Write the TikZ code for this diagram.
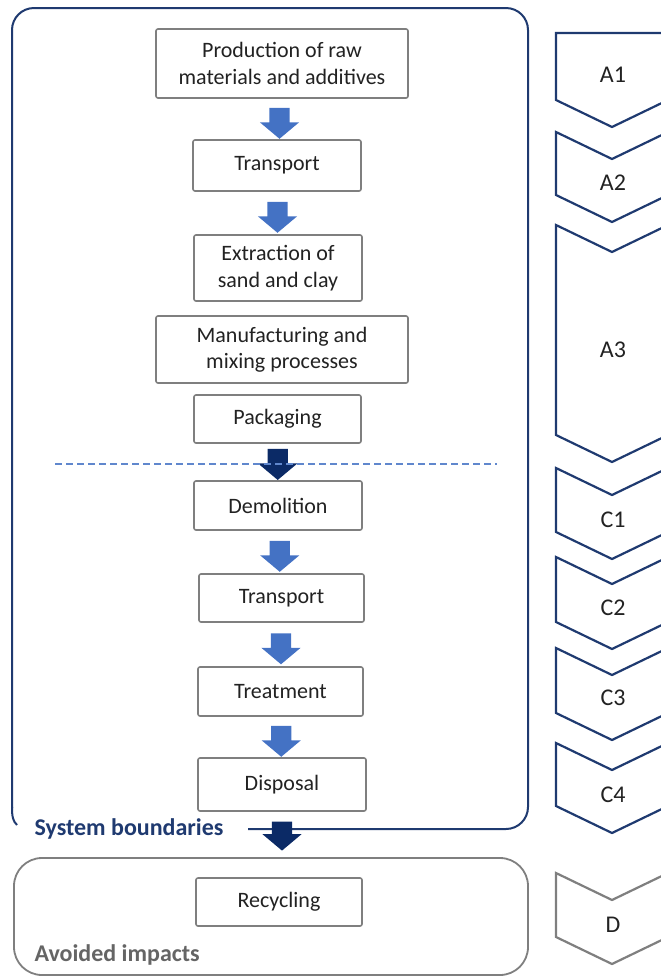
\documentclass[tikz,border=0pt]{standalone}
\usepackage{fontspec}
\setmainfont{Carlito}
\usepackage{tikz}
\usetikzlibrary{
	calc,
	positioning,
	shapes,
	shapes.arrows
	}
\definecolor{navy}{HTML}{1F3A70}
\definecolor{navyfleche}{HTML}{0B2A66}
\definecolor{bleu}{HTML}{4472C4}
\definecolor{gris}{HTML}{7F7F7F}
\definecolor{texte}{HTML}{222222}
\tikzstyle{etape}=[draw=gris,line width=1.6pt,rounded corners=2pt,fill=white,align=center,text=texte,font=\fontsize{22}{26.5}\selectfont,inner sep=2pt]
\tikzstyle{fleche}=[single arrow,draw=none,fill=bleu,minimum height=31pt,single arrow head extend=9.5pt,single arrow head indent=0pt,single arrow tip angle=100,inner xsep=0pt,inner ysep=10pt,rotate=-90]
\tikzstyle{chev}=[draw=navy,line width=2.2pt,line join=miter]
\tikzstyle{chev-lbl}=[text=texte,font=\fontsize{24}{28}\selectfont]

\begin{document}
\begin{tikzpicture}[x=1pt,y=-1pt]
\useasboundingbox (0,0) rectangle (661,978);
\clip (0,0) rectangle (661,978);

% system boundaries and avoided impacts
\draw[navy,line width=2pt,rounded corners=22pt] (248,829) -- (528,829) -- (528,8) -- (12,8) -- (12,808);
\draw[navy,line width=2pt] (12,807) .. controls (12,817) and (13,821) .. (17,825);
\node[anchor=west,text=navy,font=\bfseries\fontsize{24}{28}\selectfont] (sysb) at (31,829) {System boundaries};
\draw[gris,line width=1.8pt,rounded corners=28pt] (14,858) rectangle (528,975);
\node[anchor=west,text=gris!80!black,font=\bfseries\fontsize{24}{28}\selectfont] (avoid) at (31,955) {Avoided impacts};

% process steps
\node[etape,minimum width=252pt,minimum height=69pt] (prod) at (282,63.5) {Production of raw\\materials and additives};
\node[etape,minimum width=168pt,minimum height=51pt] (tr1) at (277,165.5) {Transport};
\node[etape,minimum width=168pt,minimum height=66pt] (extr) at (278,268) {Extraction of\\sand and clay};
\node[etape,minimum width=252pt,minimum height=67pt] (manu) at (282,349.5) {Manufacturing and\\mixing processes};
\node[etape,minimum width=167pt,minimum height=48pt] (pack) at (277.5,419) {Packaging};
\node[etape,minimum width=168pt,minimum height=49pt] (demo) at (278,505.5) {Demolition};
\node[etape,minimum width=165pt,minimum height=48pt] (tr2) at (281.5,598) {Transport};
\node[etape,minimum width=165pt,minimum height=49pt] (treat) at (280.5,691.5) {Treatment};
\node[etape,minimum width=168pt,minimum height=53pt] (disp) at (282,784.5) {Disposal};
\node[etape,minimum width=166pt,minimum height=48pt] (recy) at (279,902) {Recycling};

% block arrows
\node[fleche] (f1) at ($(prod.south)!0.5!(tr1.north)$) {};
\node[fleche] (f2) at ($(tr1.south)!0.5!(extr.north)$) {};
\node[fleche,fill=navyfleche] (f3) at ($(pack.south)!0.45!(demo.north)$) {};
\node[fleche] (f4) at ($(demo.south)!0.5!(tr2.north)$) {};
\node[fleche] (f5) at ($(tr2.south)!0.5!(treat.north)$) {};
\node[fleche] (f6) at ($(treat.south)!0.5!(disp.north)$) {};
\node[fleche,fill=navyfleche,minimum height=29pt] (f7) at ($(disp.south)+(0,20)$) {};

% end of A stages
\coordinate (cutL) at (55,464);
\coordinate (cutR) at (497,464);
\draw[bleu!85,line width=1.2pt,dash pattern=on 7pt off 4pt] (cutL) -- (cutR);

% life cycle stages
\draw[chev] (556,33) -- (668,33) -- (668,100) -- (612,127) -- (556,100) -- cycle;
\draw[chev] (556,132) -- (612,159) -- (668,132) -- (668,195) -- (612,222) -- (556,195) -- cycle;
\draw[chev] (556,225) -- (612,252) -- (668,225) -- (668,435) -- (612,462) -- (556,435) -- cycle;
\draw[chev] (556,468) -- (612,495) -- (668,468) -- (668,532) -- (612,559) -- (556,532) -- cycle;
\draw[chev] (556,557) -- (612,584) -- (668,557) -- (668,622) -- (612,649) -- (556,622) -- cycle;
\draw[chev] (556,648) -- (612,675) -- (668,648) -- (668,713) -- (612,740) -- (556,713) -- cycle;
\draw[chev] (556,743) -- (612,770) -- (668,743) -- (668,806) -- (612,833) -- (556,806) -- cycle;
\draw[chev,draw=gris] (556,873) -- (612,900) -- (668,873) -- (668,937) -- (612,964) -- (556,937) -- cycle;

\node[chev-lbl] (a1) at (613,75) {A1};
\node[chev-lbl] (a2) at (613,183) {A2};
\node[chev-lbl] (a3) at (613,350) {A3};
\node[chev-lbl] (c1) at (613,520) {C1};
\node[chev-lbl] (c2) at (613,608) {C2};
\node[chev-lbl] (c3) at (613,698) {C3};
\node[chev-lbl] (c4) at (613,795) {C4};
\node[chev-lbl] (d) at (613,925) {D};
\end{tikzpicture}
\end{document}
